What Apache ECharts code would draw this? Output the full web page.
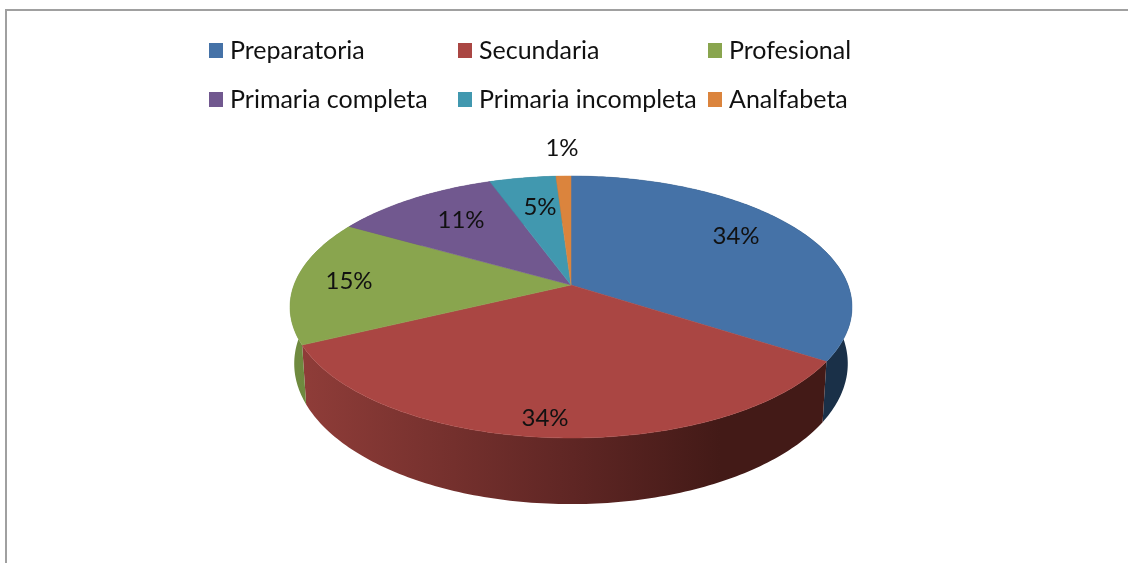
<!DOCTYPE html>
<html>
<head>
<meta charset="utf-8">
<style>
  html, body { margin: 0; padding: 0; background: #fff; }
  #chart { width: 1128px; height: 563px; }
</style>
<script src="https://cdn.jsdelivr.net/npm/echarts@6/dist/echarts.min.js"></script>
</head>
<body>
<div id="chart"></div>
<script>
const categories = ['Preparatoria', 'Secundaria', 'Profesional', 'Primaria completa', 'Primaria incompleta', 'Analfabeta'];
const shares = [34.2, 33.6, 15.49, 11.2, 4.5, 1.01];

const topColors = ['#4572a7', '#aa4643', '#89a54e', '#71588f', '#4198af', '#db843d'];
// wall shading, left to right
const wallColors = [
  ['#27415f', '#1f3650', '#1a3048'],
  ['#903d39', '#5f2624', '#431a17'],
  ['#6f8a3f', '#55692f', '#3f4e22'],
  ['#54406c', '#44345a', '#382a4a'],
  ['#2f7385', '#285f6e', '#204e5b'],
  ['#a8632c', '#8c5224', '#73431d']
];
// label centres, px
const labelAt = [[736, 236], [545, 418], [349, 281], [461, 220], [540, 207], [562, 148]];

const FONT = 'Lato, "Open Sans", sans-serif';

// pie in perspective: a tilted disc seen from the front
const CX = 571, CY = 285;     // image of the pie centre
const R = 277;                // radius across
const TILT = 127.3;           // radius along the view direction
const PERSP = 0.168;          // front is nearer than back
const DEPTH = 55;             // thickness of the disc
const BOTTOM_SHRINK = 0.985;  // lower rim is a little narrower

function project(theta, drop, shrink) {
  const u = Math.sin(theta), v = -Math.cos(theta);
  const w = 1 / (1 - PERSP * v);
  return [CX + R * u * w * shrink, CY + (TILT * v + drop) * w];
}

function arc(a0, a1, drop, shrink) {
  const steps = Math.max(2, Math.ceil((a1 - a0) * 60));
  const pts = [];
  for (let i = 0; i <= steps; i++) {
    pts.push(project(a0 + (a1 - a0) * i / steps, drop, shrink));
  }
  return pts;
}

const total = shares.reduce((a, b) => a + b, 0);
let running = 0;
const starts = shares.map(v => {
  const s = running;
  running += v;
  return s;
});

function makeRender(idx) {
  return function (params, api) {
    const a0 = starts[idx] / total * Math.PI * 2;
    const a1 = a0 + api.value(0) / total * Math.PI * 2;
    const topArc = arc(a0, a1, 0, 1);
    const lowArc = arc(a0, a1, DEPTH, BOTTOM_SHRINK);
    const shade = wallColors[idx];
    return {
      type: 'group',
      children: [
        {
          type: 'polygon',
          z2: 1,
          shape: { points: topArc.concat(lowArc.reverse()) },
          style: {
            fill: new echarts.graphic.LinearGradient(297, 0, 720, 0, [
              { offset: 0, color: shade[0] },
              { offset: 0.65, color: shade[1] },
              { offset: 1, color: shade[2] }
            ], true)
          }
        },
        {
          type: 'polygon',
          z2: 10,
          shape: { points: [[CX, CY]].concat(topArc) },
          style: { fill: topColors[idx], stroke: topColors[idx], lineWidth: 0.5 }
        },
        {
          type: 'text',
          z2: 20,
          style: {
            x: labelAt[idx][0],
            y: labelAt[idx][1],
            text: Math.round(api.value(0)) + '%',
            fill: '#111',
            font: '24px ' + FONT,
            align: 'center',
            verticalAlign: 'middle'
          }
        }
      ]
    };
  };
}

const series = categories.map((name, i) => ({
  type: 'custom',
  name: name,
  coordinateSystem: 'none',
  silent: true,
  itemStyle: { color: topColors[i] },
  data: [shares[i]],
  renderItem: makeRender(i)
}));

function legendColumn(names, left) {
  return {
    left: left,
    top: 38,
    orient: 'vertical',
    icon: 'rect',
    itemWidth: 14,
    itemHeight: 15,
    itemGap: 24,
    selectedMode: false,
    padding: 0,
    data: names,
    textStyle: { color: '#111', fontFamily: 'Lato, "Open Sans", sans-serif', fontSize: 25, padding: [0, 0, 0, 2] }
  };
}

const chart = echarts.init(document.getElementById('chart'), null, { renderer: 'canvas' });
chart.setOption({
  animation: false,
  backgroundColor: '#fff',
  legend: [
    legendColumn([categories[0], categories[3]], 209),
    legendColumn([categories[1], categories[4]], 458),
    legendColumn([categories[2], categories[5]], 708)
  ],
  graphic: [
    {
      type: 'polyline',
      z: 0,
      shape: { points: [[6, 563], [6, 10], [1128, 10]] },
      style: { stroke: '#a0a0a0', lineWidth: 2, fill: null }
    }
  ],
  series: series
});
</script>
</body>
</html>
